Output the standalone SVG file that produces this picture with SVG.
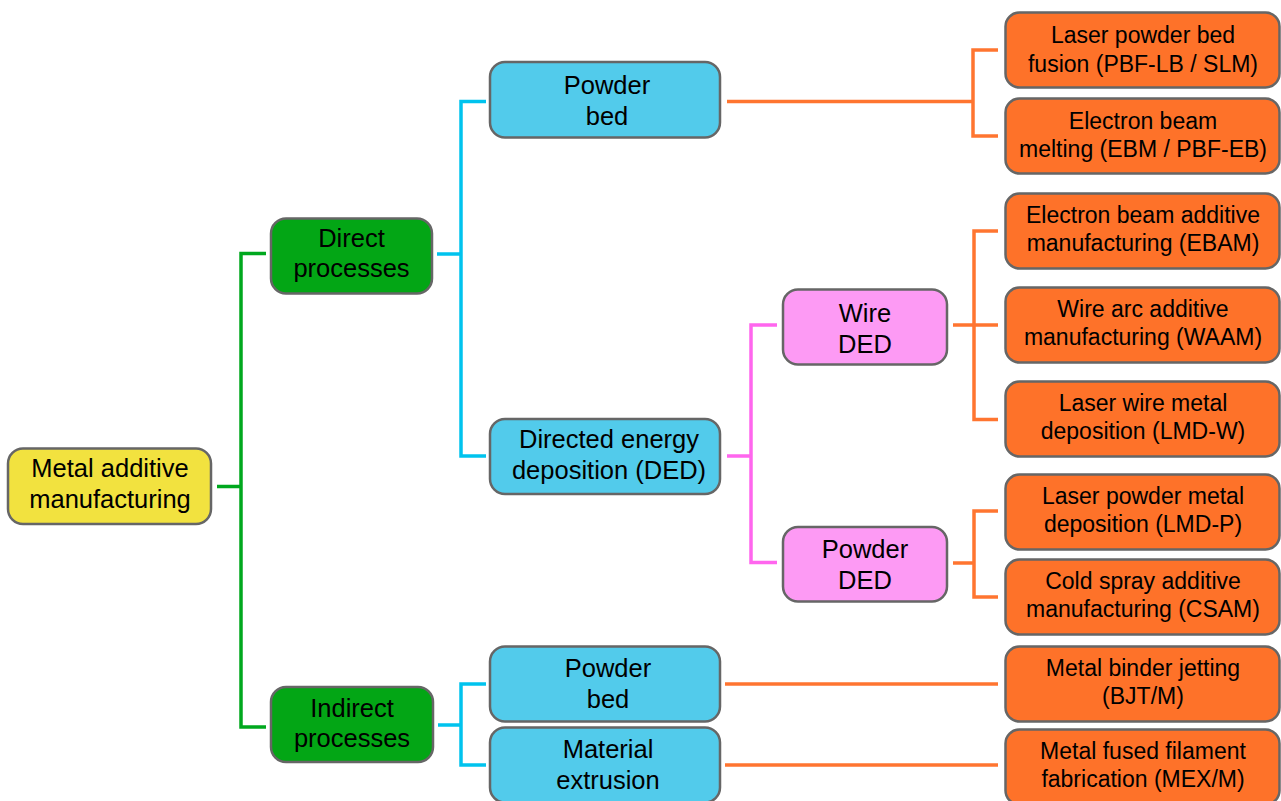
<svg xmlns="http://www.w3.org/2000/svg" width="1281" height="801" viewBox="0 0 1281 801">
<style>
.box{stroke:#666666;stroke-width:2.5}
.root{fill:#f2e23f}
.l1{fill:#03a615}
.l2{fill:#52cbeb}
.l3{fill:#fd9af4}
.l4{fill:#fe7229}
text{font-family:"Liberation Sans",Arial,sans-serif;fill:#000;text-anchor:middle}
.big{font-size:25.5px}
.sm{font-size:23px}
.c{fill:none;stroke-width:3.5}
.cg{stroke:#00a81e}
.cb{stroke:#00c3ee}
.cp{stroke:#ff66ee}
.co{stroke:#ff7530}
</style>
<rect width="1281" height="801" fill="#ffffff"/>
<g id="connectors">
  <path class="c cg" d="M217 486.5H241M266 253.5H241V727H266"/>
  <path class="c cb" d="M437 254H461M486 101.5H461V456H486"/>
  <path class="c cb" d="M438 725H461M486 684H461V765H486"/>
  <path class="c co" d="M727 101.5H973M998 50H973V136H998"/>
  <path class="c cp" d="M727 456H751M777 325H751V562.5H777"/>
  <path class="c co" d="M953 325H998M998 231H974V419.5H998"/>
  <path class="c co" d="M953 563H974M998 511H974V597H998"/>
  <path class="c co" d="M725 684H998"/>
  <path class="c co" d="M725 765H998"/>
</g>
<g id="n-root">
  <rect class="box root" x="8" y="448.5" width="203" height="75.5" rx="15"/>
  <text class="big" x="110" y="477">Metal additive</text>
  <text class="big" x="110" y="508">manufacturing</text>
</g>
<g id="n-direct">
  <rect class="box l1" x="271" y="218.5" width="161" height="75" rx="15"/>
  <text class="big" x="351.5" y="247">Direct</text>
  <text class="big" x="351.5" y="277">processes</text>
</g>
<g id="n-indirect">
  <rect class="box l1" x="271" y="687" width="162" height="75" rx="15"/>
  <text class="big" x="352" y="717">Indirect</text>
  <text class="big" x="352" y="747">processes</text>
</g>
<g id="n-powderbed1">
  <rect class="box l2" x="490" y="62" width="230" height="75.5" rx="15"/>
  <text class="big" x="607" y="93.5">Powder</text>
  <text class="big" x="607" y="124.5">bed</text>
</g>
<g id="n-ded">
  <rect class="box l2" x="490" y="419" width="230" height="75" rx="15"/>
  <text class="big" x="609" y="448">Directed energy</text>
  <text class="big" x="609" y="479">deposition (DED)</text>
</g>
<g id="n-powderbed2">
  <rect class="box l2" x="490" y="646.5" width="230" height="75" rx="15"/>
  <text class="big" x="608" y="677">Powder</text>
  <text class="big" x="608" y="708">bed</text>
</g>
<g id="n-matext">
  <rect class="box l2" x="490" y="727.5" width="230" height="75" rx="15"/>
  <text class="big" x="608" y="758">Material</text>
  <text class="big" x="608" y="789">extrusion</text>
</g>
<g id="n-wireded">
  <rect class="box l3" x="783" y="289.5" width="164" height="75" rx="15"/>
  <text class="big" x="865" y="321.5">Wire</text>
  <text class="big" x="865" y="352.5">DED</text>
</g>
<g id="n-powderded">
  <rect class="box l3" x="783" y="527" width="164" height="74.5" rx="15"/>
  <text class="big" x="865" y="557.5">Powder</text>
  <text class="big" x="865" y="588.5">DED</text>
</g>
<g id="n-pbflb">
  <rect class="box l4" x="1005.5" y="12.5" width="274" height="75" rx="14"/>
  <text class="sm" x="1143" y="43">Laser powder bed</text>
  <text class="sm" x="1143" y="71.5">fusion (PBF-LB / SLM)</text>
</g>
<g id="n-ebm">
  <rect class="box l4" x="1005.5" y="98.5" width="274" height="75" rx="14"/>
  <text class="sm" x="1143" y="128.5">Electron beam</text>
  <text class="sm" x="1143" y="156.5">melting (EBM / PBF-EB)</text>
</g>
<g id="n-ebam">
  <rect class="box l4" x="1005.5" y="193.5" width="274" height="75" rx="14"/>
  <text class="sm" x="1143" y="222.5">Electron beam additive</text>
  <text class="sm" x="1143" y="250.5">manufacturing (EBAM)</text>
</g>
<g id="n-waam">
  <rect class="box l4" x="1005.5" y="287.5" width="274" height="75" rx="14"/>
  <text class="sm" x="1143" y="317">Wire arc additive</text>
  <text class="sm" x="1143" y="345">manufacturing (WAAM)</text>
</g>
<g id="n-lmdw">
  <rect class="box l4" x="1005.5" y="381.5" width="274" height="75" rx="14"/>
  <text class="sm" x="1143" y="411">Laser wire metal</text>
  <text class="sm" x="1143" y="439">deposition (LMD-W)</text>
</g>
<g id="n-lmdp">
  <rect class="box l4" x="1005.5" y="474.5" width="274" height="75" rx="14"/>
  <text class="sm" x="1143" y="504">Laser powder metal</text>
  <text class="sm" x="1143" y="532">deposition (LMD-P)</text>
</g>
<g id="n-csam">
  <rect class="box l4" x="1005.5" y="559.5" width="274" height="75" rx="14"/>
  <text class="sm" x="1143" y="589">Cold spray additive</text>
  <text class="sm" x="1143" y="617">manufacturing (CSAM)</text>
</g>
<g id="n-bjt">
  <rect class="box l4" x="1005.5" y="646.5" width="274" height="75" rx="14"/>
  <text class="sm" x="1143" y="676">Metal binder jetting</text>
  <text class="sm" x="1143" y="704">(BJT/M)</text>
</g>
<g id="n-mex">
  <rect class="box l4" x="1005.5" y="729.5" width="274" height="75" rx="14"/>
  <text class="sm" x="1143" y="759">Metal fused filament</text>
  <text class="sm" x="1143" y="787">fabrication (MEX/M)</text>
</g>
</svg>
